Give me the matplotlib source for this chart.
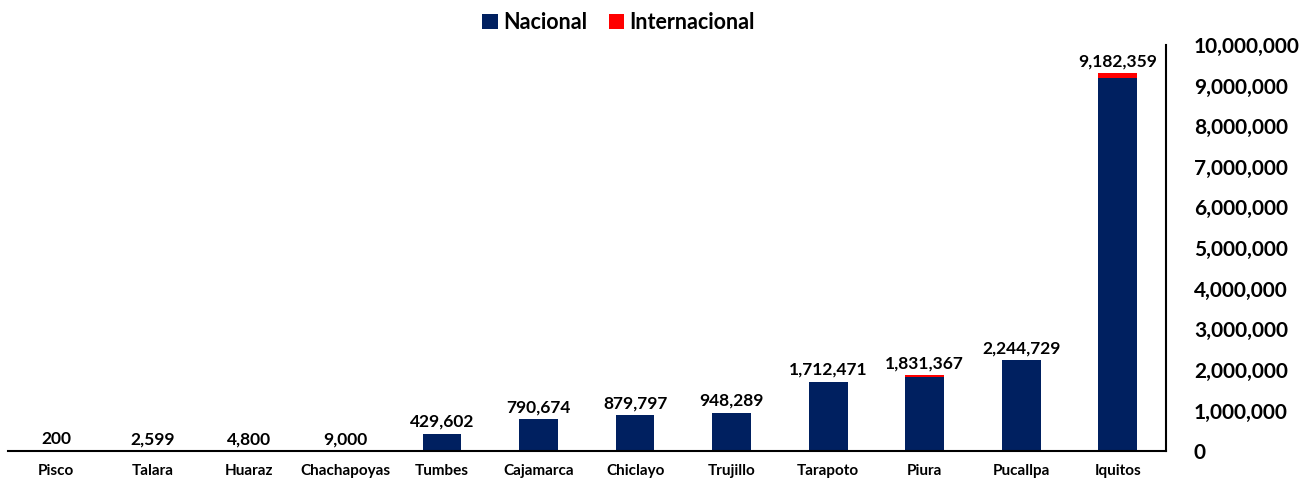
import numpy as np
import matplotlib.pyplot as plt
from matplotlib.ticker import FuncFormatter, MultipleLocator

plt.rcParams['font.family'] = ['Lato', 'DejaVu Sans']

ciudades = ["Pisco", "Talara", "Huaraz", "Chachapoyas", "Tumbes", "Cajamarca",
            "Chiclayo", "Trujillo", "Tarapoto", "Piura", "Pucallpa", "Iquitos"]
nacional = [200, 2599, 4800, 9000, 429602, 790674,
            879797, 948289, 1712471, 1831367, 2244729, 9182359]
internacional = [0, 0, 0, 0, 0, 0,
                 8000, 0, 0, 40000, 0, 120000]

azul = "#002060"
rojo = "#FF0000"

fig = plt.figure(figsize=(13.16, 4.83), dpi=100)
ax = fig.add_axes([0.006, 0.066, 0.88, 0.841])

x = np.arange(len(ciudades))
ax.bar(x, nacional, width=0.4, color=azul, label="Nacional")
ax.bar(x, internacional, width=0.4, bottom=nacional, color=rojo, label="Internacional")

total = np.array(nacional) + np.array(internacional)
for xi, t, n in zip(x, total, nacional):
    ax.text(xi, t + 90000, f"{n:,}", ha="center", va="bottom",
            fontsize=12.5, fontweight="bold")

ax.set_xlim(-0.5, 11.5)
ax.set_ylim(0, 10000000)
ax.yaxis.set_major_locator(MultipleLocator(1000000))
ax.yaxis.set_major_formatter(FuncFormatter(lambda v, p: f"{int(v):,}"))
ax.yaxis.tick_right()
ax.set_xticks(x)
ax.set_xticklabels(ciudades, fontsize=11, fontweight="bold")
ax.tick_params(axis="x", length=0, pad=9)
ax.tick_params(axis="y", length=0, pad=20, labelsize=15)
for lab in ax.get_yticklabels():
    lab.set_fontweight("bold")

for s in ["top", "left"]:
    ax.spines[s].set_visible(False)
ax.spines["right"].set_linewidth(1.5)
ax.spines["bottom"].set_linewidth(1.5)

fig.legend(loc="upper center", bbox_to_anchor=(0.47, 1.015), ncol=2, frameon=False,
           prop={"size": 15.5, "weight": "bold"}, handlelength=0.7, handleheight=0.7,
           handletextpad=0.25, columnspacing=1.0)

fig.savefig("out.png", dpi=100)
